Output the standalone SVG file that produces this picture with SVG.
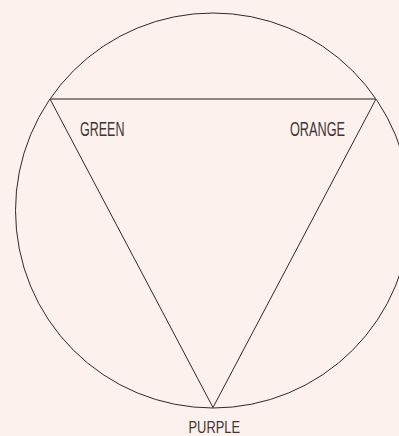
<svg xmlns="http://www.w3.org/2000/svg" width="399" height="436" viewBox="0 0 399 436">
<style>
.bg{fill:#fdf1ed}
.ln{fill:none;stroke:#2e2a29;stroke-width:1}
.top{fill:none;stroke:#6b605d;stroke-width:1.6}
.lbl{font-family:"Liberation Sans",Arial,sans-serif;font-size:20.5px;fill:#3d3634}
</style>
<rect class="bg" x="0" y="0" width="399" height="436"/>
<g id="circle"><circle class="ln" cx="213" cy="210.5" r="197.5"/></g>
<g id="connectors">
<line class="top" x1="50" y1="99" x2="376" y2="99"/>
<line class="ln" x1="50" y1="99" x2="213" y2="407.5"/>
<line class="ln" x1="376" y1="99" x2="213" y2="407.5"/>
</g>
<g id="green"><text class="lbl" x="80" y="135.7" textLength="44.5" lengthAdjust="spacingAndGlyphs">GREEN</text></g>
<g id="orange"><text class="lbl" x="290" y="135.7" textLength="55" lengthAdjust="spacingAndGlyphs">ORANGE</text></g>
<g id="purple"><text class="lbl" x="188.5" y="432.5" textLength="51.5" lengthAdjust="spacingAndGlyphs" style="font-size:17px">PURPLE</text></g>
</svg>
